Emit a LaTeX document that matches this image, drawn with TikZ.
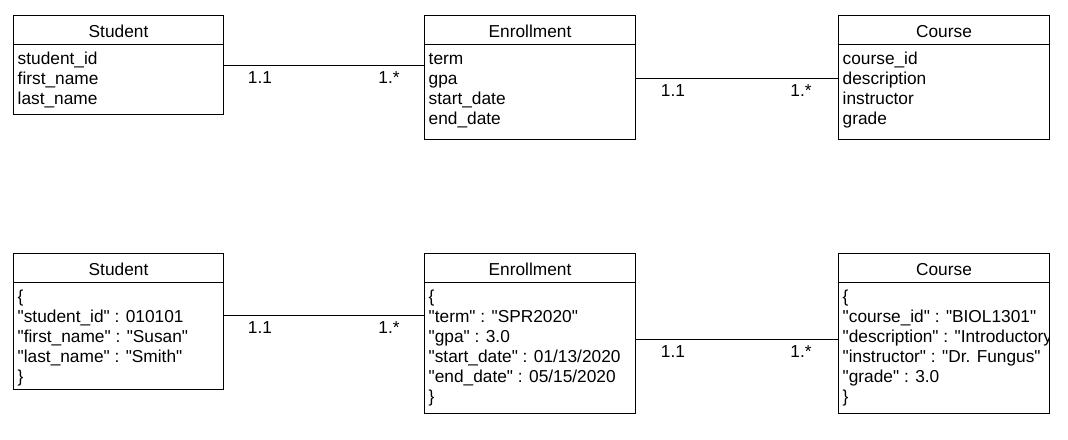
\documentclass[tikz,border=0pt]{standalone}
\usepackage{fontspec}
\setmainfont{Liberation Sans}[Ligatures=TeXOff]
\newcommand{\rowsbox}[1]{\vtop{\baselineskip=20pt\lineskiplimit=-100pt\lineskip=0pt #1}}
\newcommand{\rw}[1]{\hbox{#1}}
\tikzset{
  lw/.style={line width=1pt, draw=black},
  ent/.style={lw, inner sep=0pt, anchor=north west},
  title/.style={anchor=base, inner sep=0pt},
  bodytext/.style={anchor=base west, inner sep=0pt, align=left},
  mult/.style={anchor=base, inner sep=0pt},
  conn/.style={lw}
}
\newcommand{\entbox}[6]{%
  \node[ent, minimum width=#4pt, minimum height=#5pt] (#1) at (#2,#3) {};
  \draw[lw] ([yshift=-29.5pt]#1.north west) -- ([yshift=-29.5pt]#1.north east);
  \node[title] (#1-t) at ([yshift=-22pt]#1.north) {#6};
}
\begin{document}
\begin{tikzpicture}[x=1pt,y=-1pt,font=\fontsize{17.3}{20}\selectfont]
\useasboundingbox (0,0) rectangle (1068,439);

% ---------- top row ----------
\entbox{s1}{13}{15}{210}{99}{Student}
\node[bodytext] (s1-b) at ([xshift=4.5pt,yshift=-49pt]s1.north west)
  {\rowsbox{\rw{student\_id}\rw{first\_name}\rw{last\_name}}};

\entbox{e1}{424}{15}{211}{124}{Enrollment}
\node[bodytext] (e1-b) at ([xshift=4.5pt,yshift=-49pt]e1.north west)
  {\rowsbox{\rw{term}\rw{gpa}\rw{start\_date}\rw{end\_date}}};

\entbox{c1}{838}{15}{211}{124}{Course}
\node[bodytext] (c1-b) at ([xshift=4.5pt,yshift=-49pt]c1.north west)
  {\rowsbox{\rw{course\_id}\rw{description}\rw{instructor}\rw{grade}}};

\coordinate (y1) at (0,65.3);
\coordinate (y2) at (0,78.7);
\draw[conn] (s1.east |- y1) -- (e1.west |- y1);
\draw[conn] (e1.east |- y2) -- (c1.west |- y2);
\node[mult] (m1) at (260,83) {1.1};
\node[mult] (m2) at (389,83) {1.*};
\node[mult] (m3) at (673,96.4) {1.1};
\node[mult] (m4) at (801,96.4) {1.*};

% ---------- bottom row ----------
\entbox{s2}{13}{253}{210}{136}{Student}
\node[bodytext] (s2-b) at ([xshift=4.5pt,yshift=-49pt]s2.north west)
  {\rowsbox{\rw{\{}\rw{"student\_id" : 010101}\rw{"first\_name" : "Susan"}\rw{"last\_name" : "Smith"}\rw{\}}}};

\entbox{e2}{424}{253}{211}{160}{Enrollment}
\node[bodytext] (e2-b) at ([xshift=4.5pt,yshift=-49pt]e2.north west)
  {\rowsbox{\rw{\{}\rw{"term" : "SPR2020"}\rw{"gpa" : 3.0}\rw{"start\_date" : 01/13/2020}\rw{"end\_date" : 05/15/2020}\rw{\}}}};

\entbox{c2}{838}{253}{211}{160}{Course}
\begin{scope}
  \clip ([xshift=0.5pt,yshift=-0.5pt]c2.north west) rectangle ([xshift=-0.5pt,yshift=0.5pt]c2.south east);
  \node[bodytext] (c2-b) at ([xshift=4.5pt,yshift=-49pt]c2.north west)
    {\rowsbox{\rw{\{}\rw{"course\_id" : "BIOL1301"}\rw{"description" : "Introductory"}\rw{"instructor" : "Dr. Fungus"}\rw{"grade" : 3.0}\rw{\}}}};
\end{scope}

\coordinate (y3) at (0,315.3);
\coordinate (y4) at (0,339.3);
\draw[conn] (s2.east |- y3) -- (e2.west |- y3);
\draw[conn] (e2.east |- y4) -- (c2.west |- y4);
\node[mult] (m5) at (260,333) {1.1};
\node[mult] (m6) at (389,333) {1.*};
\node[mult] (m7) at (673,357) {1.1};
\node[mult] (m8) at (801,357) {1.*};
\end{tikzpicture}
\end{document}
